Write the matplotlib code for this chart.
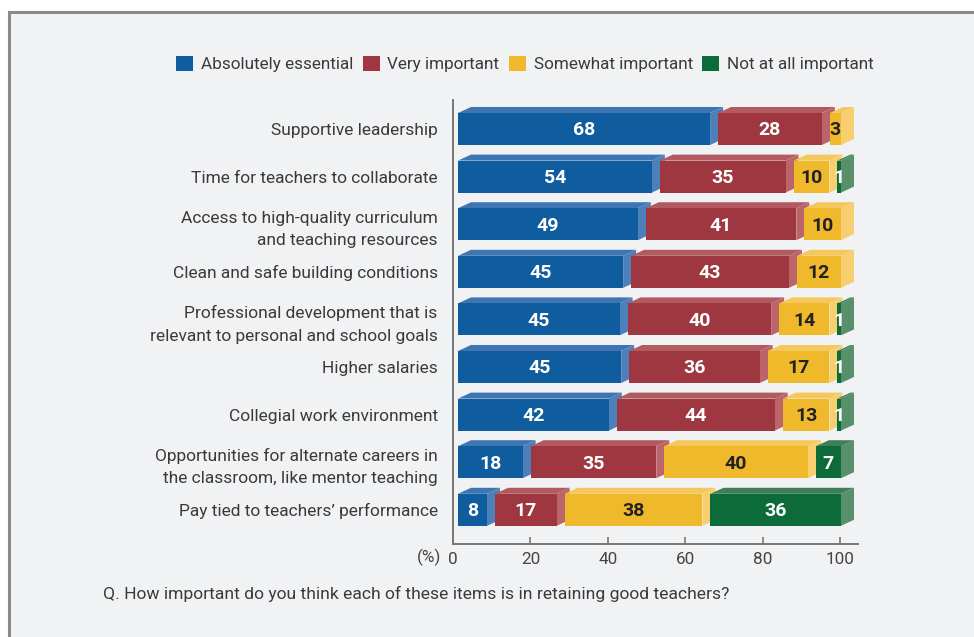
import matplotlib
matplotlib.use("Agg")
import matplotlib.pyplot as plt
from matplotlib.patches import Polygon, Rectangle, Patch

categories = [
    "Supportive leadership",
    "Time for teachers to collaborate",
    "Access to high-quality curriculum\nand teaching resources",
    "Clean and safe building conditions",
    "Professional development that is\nrelevant to personal and school goals",
    "Higher salaries",
    "Collegial work environment",
    "Opportunities for alternate careers in\nthe classroom, like mentor teaching",
    "Pay tied to teachers\u2019 performance",
]
series_names = ["Absolutely essential", "Very important", "Somewhat important", "Not at all important"]
essential = [68, 54, 49, 45, 45, 45, 42, 18, 8]
very_important = [28, 35, 41, 43, 40, 36, 44, 35, 17]
somewhat_important = [3, 10, 10, 12, 14, 17, 13, 40, 38]
not_important = [0, 1, 0, 0, 1, 1, 1, 7, 36]
x_ticks = [0, 20, 40, 60, 80, 100]
question = "Q. How important do you think each of these items is in retaining good teachers?"

# front / top / side shades per series
front_colors = ["#0f5c9e", "#9e3740", "#f0b92c", "#0d6b3a"]
top_colors = ["#3e75b3", "#b35a61", "#f5c85d", "#3f7f57"]
side_colors = ["#4d80ba", "#bb656a", "#f7cf70", "#57906a"]
label_colors = ["white", "white", "#222222", "white"]

FONT = ["Roboto", "DejaVu Sans"]
plt.rcParams["font.family"] = FONT
TXT = "#3a3a3a"

W, H = 974, 637
fig = plt.figure(figsize=(W / 100, H / 100), dpi=100)
fig.patch.set_facecolor("white")
fig.add_artist(Rectangle((9 / W, -0.02), 1.05, (H - 12) / H + 0.02, transform=fig.transFigure,
                         facecolor="#f1f2f4", edgecolor="#8a8a8a", lw=2.2, zorder=0))

ax_l, ax_r, ax_t, ax_b = 453, 858, 100, 544
ax = fig.add_axes([ax_l / W, (H - ax_b) / H, (ax_r - ax_l) / W, (ax_b - ax_t) / H])
ax.set_facecolor("none")
xmax = 104.6
ax.set_xlim(0, xmax)
row_px = 47.6
ax.set_ylim((ax_b - 129) / row_px, (ax_t - 129) / row_px)

px_x = (ax_r - ax_l) / xmax          # pixels per x unit
dx = 13 / px_x                        # depth offset (x)
dy = 6 / row_px                       # depth offset (y, upward)
gap = 8 / px_x                        # visible side before next segment
start = 5 / px_x
bar_end = (854 - ax_l) / px_x         # every stack is stretched to end here
half = 16 / row_px

series = [essential, very_important, somewhat_important, not_important]
for i in range(len(categories)):
    vals_row = [vals[i] for vals in series]
    nseg = sum(1 for v in vals_row if v > 0)
    scale = (bar_end - start - dx - (nseg - 1) * gap) / sum(vals_row)
    x0 = start
    yb, yt = i + half, i - half
    for s, v in enumerate(vals_row):
        if v <= 0:
            continue
        w = v * scale
        x1 = x0 + w
        top = Polygon([(x0, yt), (x1, yt), (x1 + dx, yt - dy), (x0 + dx, yt - dy)],
                      facecolor=top_colors[s], edgecolor="none", clip_on=False)
        side = Polygon([(x1, yb), (x1, yt), (x1 + dx, yt - dy), (x1 + dx, yb - dy)],
                       facecolor=side_colors[s], edgecolor="none", clip_on=False)
        front = Polygon([(x0, yb), (x1, yb), (x1, yt), (x0, yt)],
                        facecolor=front_colors[s], edgecolor="none", clip_on=False)
        for p in (top, side, front):
            ax.add_patch(p)
        ax.text(x0 + w / 2, i + 0.03, f"{v}", ha="center", va="center", fontsize=14,
                fontweight="bold", color=label_colors[s], clip_on=False)
        x0 = x1 + gap

ax.set_yticks(range(len(categories)), labels=categories)
ax.tick_params(axis="y", length=0, pad=11, labelsize=12.5, labelcolor=TXT)
for lbl in ax.get_yticklabels():
    lbl.set_linespacing(1.6)
ax.set_xticks(x_ticks, labels=[str(t) for t in x_ticks])
ax.tick_params(axis="x", direction="in", length=5, width=1.2, color="#777777",
               pad=6, labelsize=12.3, labelcolor="#444444")
for side_name in ("top", "right"):
    ax.spines[side_name].set_visible(False)
for side_name in ("left", "bottom"):
    ax.spines[side_name].set_color("#777777")
    ax.spines[side_name].set_linewidth(1.4)

fig.text(441 / W, 1 - 557 / H, "(%)", ha="right", va="center", fontsize=12.3, color="#444444")
fig.text(103 / W, 1 - 594 / H, question, ha="left", va="center", fontsize=12.6, color=TXT)

handles = [Patch(facecolor=c, edgecolor="none") for c in front_colors]
fig.legend(handles, series_names, loc="center", bbox_to_anchor=(525 / W, 1 - 64 / H),
           ncol=4, frameon=False, fontsize=12.3, handlelength=1.0, handleheight=1.0,
           handletextpad=0.45, columnspacing=0.55, labelcolor=TXT)

fig.savefig("out.png", dpi=100, facecolor=fig.get_facecolor())
